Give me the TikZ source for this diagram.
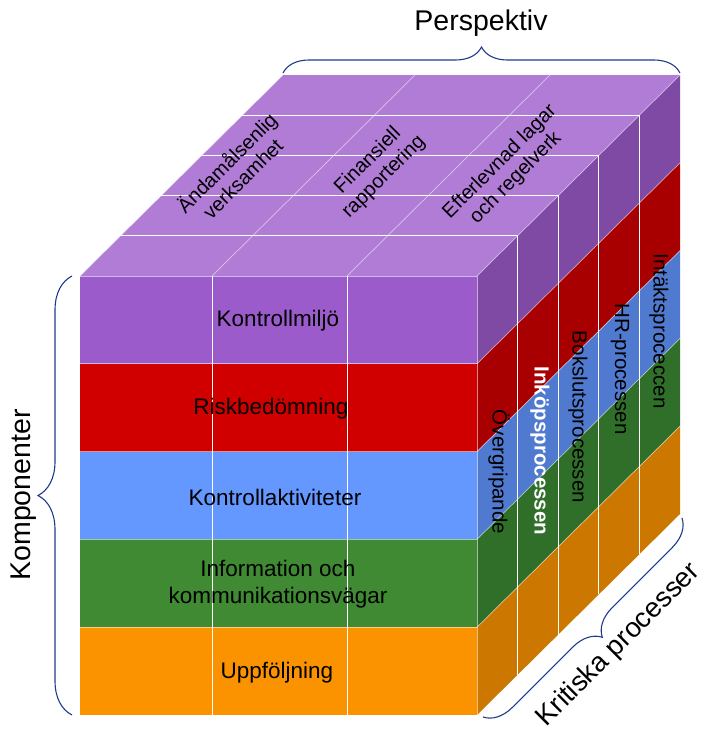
\documentclass[tikz,border=0pt]{standalone}
\usepackage{fontspec}
\setmainfont{Liberation Sans}
\usetikzlibrary{decorations.pathreplacing}
\definecolor{toppurple}{HTML}{B07CD6}
\definecolor{fpurple}{HTML}{9B5BCB}
\definecolor{spurple}{HTML}{7F4AA3}
\definecolor{fred}{HTML}{D00000}
\definecolor{sred}{HTML}{A80000}
\definecolor{fblue}{HTML}{6598FE}
\definecolor{sblue}{HTML}{4F7ACF}
\definecolor{fgreen}{HTML}{3F8A32}
\definecolor{sgreen}{HTML}{2F6F29}
\definecolor{forange}{HTML}{FB9300}
\definecolor{sorange}{HTML}{CC7700}
\definecolor{bracecol}{HTML}{1F3A8A}
\tikzset{
  faint/.style={draw=white, draw opacity=0.55, line width=0.7pt},
  solidline/.style={draw=white, line width=0.9pt},
  frontlbl/.style={font=\fontsize{22.5}{27}\selectfont, align=center, text=black, inner sep=1pt},
  toplbl/.style={font=\fontsize{20}{22.5}\selectfont, align=center, rotate=45, text=black, inner sep=1pt},
  sidelbl/.style={font=\fontsize{20.5}{23}\selectfont, rotate=-90, text=black, inner sep=1pt},
  bigbrace/.style={draw=bracecol, line width=1.1pt, decorate},
  biglbl/.style={font=\fontsize{28.5}{32}\selectfont, text=black, inner sep=1pt}
}
\begin{document}
\begin{tikzpicture}[x=1pt,y=-1pt]
\useasboundingbox (0,0) rectangle (706,734);
\def\dx{40.6}
\def\dy{40.2}
\def\h{87.8}
% top face
\fill[toppurple] (80,276) -- (477,276) -- (680,75) -- (283,75) -- cycle;
% layers
\foreach \i/\fc/\sc in {0/fpurple/spurple,1/fred/sred,2/fblue/sblue,3/fgreen/sgreen,4/forange/sorange}{
  \fill[\fc] (80,{276+\i*\h}) rectangle (477,{276+(\i+1)*\h});
  \fill[\sc] (477,{276+\i*\h}) -- (680,{75+\i*\h}) -- (680,{75+(\i+1)*\h}) -- (477,{276+(\i+1)*\h}) -- cycle;
}
% faint lines
\foreach \i in {0,...,4}{
  \draw[faint] (80,{276+\i*\h}) -- (477,{276+\i*\h});
  \draw[faint] (477,{276+\i*\h}) -- (680,{75+\i*\h});
}
\foreach \xx in {80,212,347}{
  \draw[faint] (\xx,276) -- ({\xx+203},75);
}
\draw[faint] (477,276) -- (477,715);
% solid lines
\foreach \xx in {212,347}{
  \draw[solidline] (\xx,276) -- (\xx,715);
}
\foreach \k in {1,...,4}{
  \draw[solidline] ({80+\k*\dx},{276-\k*\dy}) -- ({477+\k*\dx},{276-\k*\dy}) -- ({477+\k*\dx},{715-\k*\dy});
}
% front labels
\node[frontlbl] (l1) at (278,321) {Kontrollmiljö};
\node[frontlbl] (l2) at (271,409) {Riskbedömning};
\node[frontlbl] (l3) at (275,497) {Kontrollaktiviteter};
\node[frontlbl] (l4) at (278,584) {Information och\\kommunikationsvägar};
\node[frontlbl] (l5) at (277,673) {Uppföljning};
% top labels
\node[toplbl] (t1) at (234,170) {Ändamålsenlig\\verksamhet};
\node[toplbl] (t2) at (376,169) {Finansiell\\rapportering};
\node[toplbl] (t3) at (508,170) {Efterlevnad lagar\\och regelverk};
% side labels
\node[sidelbl] (s1) at (499,472) {Övergripande};
\node[sidelbl, text=white, font=\fontsize{20.5}{23}\selectfont\bfseries] (s2) at (540,451) {Inköpsprocessen};
\node[sidelbl] (s3) at (578,417) {Bokslutsprocessen};
\node[sidelbl] (s4) at (620,369) {HR-processen};
\node[sidelbl] (s5) at (659,331) {Intäktsproceccen};
% braces
\coordinate (pb1) at (283,73);
\coordinate (pb2) at (680,73);
\draw[bigbrace, decoration={brace, amplitude=26pt}] (pb1) -- (pb2);
\node[biglbl] (persp) at (481,23) {Perspektiv};
\coordinate (kb1) at (72,715);
\coordinate (kb2) at (72,276);
\draw[bigbrace, decoration={brace, amplitude=34pt}] (kb1) -- (kb2);
\node[biglbl, rotate=90] (komp) at (24,495) {Komponenter};
\coordinate (cb1) at (682,518);
\coordinate (cb2) at (483,717);
\draw[bigbrace, decoration={brace, amplitude=28pt}] (cb1) -- (cb2);
\node[biglbl, rotate=45, font=\fontsize{27.5}{31}\selectfont] (krit) at (619,645) {Kritiska processer};
\end{tikzpicture}
\end{document}
